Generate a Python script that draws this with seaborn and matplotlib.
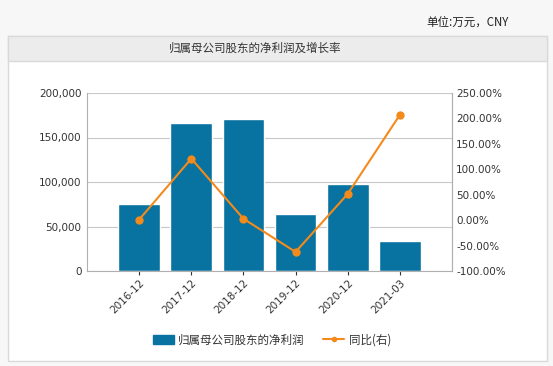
import matplotlib
matplotlib.use("Agg")
import matplotlib.pyplot as plt
import matplotlib.patches as mpatches
from matplotlib.lines import Line2D
from matplotlib.ticker import FuncFormatter
import seaborn as sns
import pandas as pd

# data
periods = ["2016-12", "2017-12", "2018-12", "2019-12", "2020-12", "2021-03"]
net_profit = [75100, 166600, 171200, 64600, 97600, 33400]  # 万元
yoy_pct = [1.0, 121.0, 2.8, -62.5, 51.5, 207.0]

bar_color = "#0873a0"
line_color = "#f28a1c"

sns.set_theme(style="white")
plt.rcParams["font.family"] = ["DejaVu Sans", "Noto Sans CJK SC"]
cjk = ["Noto Sans CJK SC", "DejaVu Sans"]

df = pd.DataFrame({"period": periods, "profit": net_profit, "yoy": yoy_pct})

fig = plt.figure(figsize=(5.53, 3.66), dpi=100)
fig.patch.set_facecolor("#f7f7f7")

W, H = 553.0, 366.0
# white panel + grey title band
panel = mpatches.Rectangle((8 / W, 1 - 361 / H), 539 / W, 325 / H, transform=fig.transFigure,
                           facecolor="white", edgecolor="#d9d9d9", lw=1.0, zorder=-5)
band = mpatches.Rectangle((8 / W, 1 - 61 / H), 539 / W, 25 / H, transform=fig.transFigure,
                          facecolor="#ececec", edgecolor="#d9d9d9", lw=1.0, zorder=-4)
fig.patches.extend([panel, band])

fig.text(509 / W, 1 - 22 / H, "单位:万元，CNY", ha="right", va="center", fontsize=8.3,
         family=cjk, color="#222222")
fig.text(255 / W, 1 - 48.5 / H, "归属母公司股东的净利润及增长率", ha="center", va="center",
         fontsize=8.3, family=cjk, color="#333333")

ax = fig.add_axes([87 / W, 1 - 271 / H, 365 / W, 178 / H])
ax.set_facecolor("none")
ax.set_zorder(2)
sns.barplot(data=df, x="period", y="profit", color=bar_color, saturation=1, width=0.8,
            ax=ax, zorder=2)
ax.set_xlim(-1, 6)
ax.set_ylim(0, 200000)
ax.set_yticks([0, 50000, 100000, 150000, 200000])
ax.yaxis.set_major_formatter(FuncFormatter(lambda v, p: f"{int(v):,}"))
ax.grid(axis="y", color="#c8c8c8", lw=0.8, zorder=0)
ax.set_axisbelow(True)
ax.set_xlabel("")
ax.set_ylabel("")
ax.spines["top"].set_visible(False)
for s in ["left", "bottom", "right"]:
    ax.spines[s].set_color("#b0b0b0")
    ax.spines[s].set_linewidth(0.8)
ax.tick_params(axis="y", labelsize=7.5, colors="#333333", length=0, pad=4)
ax.tick_params(axis="x", labelsize=7.5, colors="#333333", length=3, width=0.8,
               direction="out", bottom=True, pad=2)
plt.setp(ax.get_xticklabels(), rotation=45, ha="right", rotation_mode="anchor")

ax2 = ax.twinx()
ax2.set_zorder(3)
ax2.set_facecolor("none")
sns.lineplot(data=df, x="period", y="yoy", sort=False, color=line_color, lw=1.5,
             marker="o", markersize=6, markeredgewidth=0, ax=ax2, zorder=3)
ax2.set_xlim(-1, 6)
ax2.set_ylim(-100, 250)
ax2.set_yticks([-100, -50, 0, 50, 100, 150, 200, 250])
ax2.yaxis.set_major_formatter(FuncFormatter(lambda v, p: f"{v:.2f}%"))
ax2.set_ylabel("")
ax2.set_xlabel("")
ax2.spines["top"].set_visible(False)
ax2.spines["left"].set_visible(False)
ax2.spines["bottom"].set_visible(False)
ax2.spines["right"].set_color("#b0b0b0")
ax2.spines["right"].set_linewidth(0.8)
ax2.tick_params(axis="y", labelsize=7.5, colors="#333333", length=0, pad=3)

handles = [mpatches.Patch(color=bar_color),
           Line2D([], [], color=line_color, lw=1.5, marker="o", markersize=3)]
leg = fig.legend(handles, ["归属母公司股东的净利润", "同比(右)"], loc="center",
                 bbox_to_anchor=(272 / W, 1 - 340 / H), ncol=2, frameon=False,
                 prop={"family": cjk, "size": 8.3}, handlelength=1.8, columnspacing=1.6,
                 handletextpad=0.4)
for t in leg.get_texts():
    t.set_color("#333333")

fig.savefig("out.png", dpi=100, facecolor=fig.get_facecolor())
